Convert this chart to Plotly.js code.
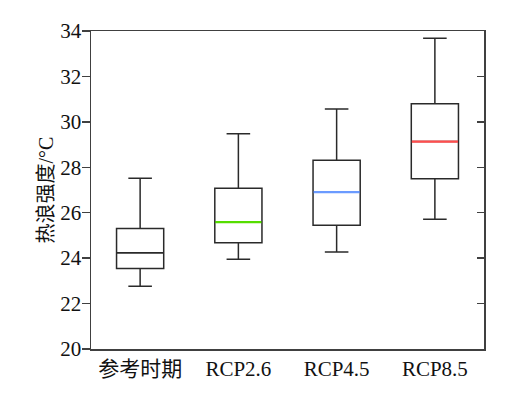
<!DOCTYPE html>
<html>
<head>
<meta charset="utf-8">
<script src="https://cdn.plot.ly/plotly-3.0.1.min.js"></script>
<style>html,body{margin:0;padding:0;background:#fff;}#chart{width:510px;height:393px;}</style>
</head>
<body>
<div id="chart"></div>
<script>
var categories = ['参考时期', 'RCP2.6', 'RCP4.5', 'RCP8.5'];
var lowerWhisker = [22.76, 23.95, 24.27, 25.71];
var q1Values = [23.54, 24.68, 25.45, 27.50];
var medianValues = [24.24, 25.59, 26.91, 29.13];
var q3Values = [25.30, 27.08, 28.31, 30.80];
var upperWhisker = [27.52, 29.48, 30.57, 33.68];
var medianColors = ['#2a2a2a', '#55dd00', '#6b9bff', '#ff4d4d'];
var yTickValues = [20, 22, 24, 26, 28, 30, 32, 34];

var boxHalf = 0.24;
var trace = {
  type: 'box',
  x: categories,
  q1: q1Values,
  median: medianValues,
  q3: q3Values,
  lowerfence: lowerWhisker,
  upperfence: upperWhisker,
  width: boxHalf * 2,
  whiskerwidth: 0.5,
  boxpoints: false,
  fillcolor: 'rgba(255,255,255,0)',
  line: {color: '#2a2a2a', width: 1.5},
  hoverinfo: 'skip',
  showlegend: false
};
var ghost = {
  type: 'scatter', x: [0], y: [20], yaxis: 'y2', mode: 'markers',
  marker: {opacity: 0}, showlegend: false, hoverinfo: 'skip'
};

var shapes = medianValues.map(function (m, i) {
  return {type: 'line', xref: 'x', yref: 'y', x0: i - boxHalf + 0.005, x1: i + boxHalf - 0.005,
    y0: m, y1: m, line: {color: medianColors[i], width: i === 0 ? 1.5 : 2.2}, layer: 'above'};
});

var serif = 'Times New Roman, Liberation Serif, Noto Sans CJK SC, serif';
var layout = {
  width: 510, height: 393,
  margin: {l: 91, r: 26, t: 31, b: 44},
  paper_bgcolor: '#fff', plot_bgcolor: '#fff',
  showlegend: false,
  font: {family: serif, size: 21, color: '#111'},
  xaxis: {
    type: 'category', range: [-0.5, 3.5],
    showline: true, mirror: true, linecolor: '#404040', linewidth: 1.5,
    ticks: '', showgrid: false, zeroline: false,
    tickfont: {family: serif, size: 21, color: '#111'}
  },
  yaxis: {
    range: [20, 34], tickvals: yTickValues, ticktext: yTickValues.map(String),
    showline: true, mirror: true, linecolor: '#404040', linewidth: 1.5,
    ticks: 'outside', ticklen: 8, tickwidth: 1.5, tickcolor: '#404040',
    ticklabelstandoff: -4,
    showgrid: false, zeroline: false,
    tickfont: {family: serif, size: 21, color: '#111'},
    title: {text: '热浪强度/°C', font: {family: serif, size: 20, color: '#111'}, standoff: 1}
  },
  yaxis2: {
    overlaying: 'y', side: 'right', range: [20, 34], tickvals: yTickValues,
    showticklabels: false, ticks: 'inside', ticklen: 7, tickwidth: 1.5, tickcolor: '#404040',
    showgrid: false, zeroline: false, showline: false
  },
  shapes: shapes
};

Plotly.newPlot('chart', [trace, ghost], layout, {displayModeBar: false, staticPlot: true});
</script>
</body>
</html>
